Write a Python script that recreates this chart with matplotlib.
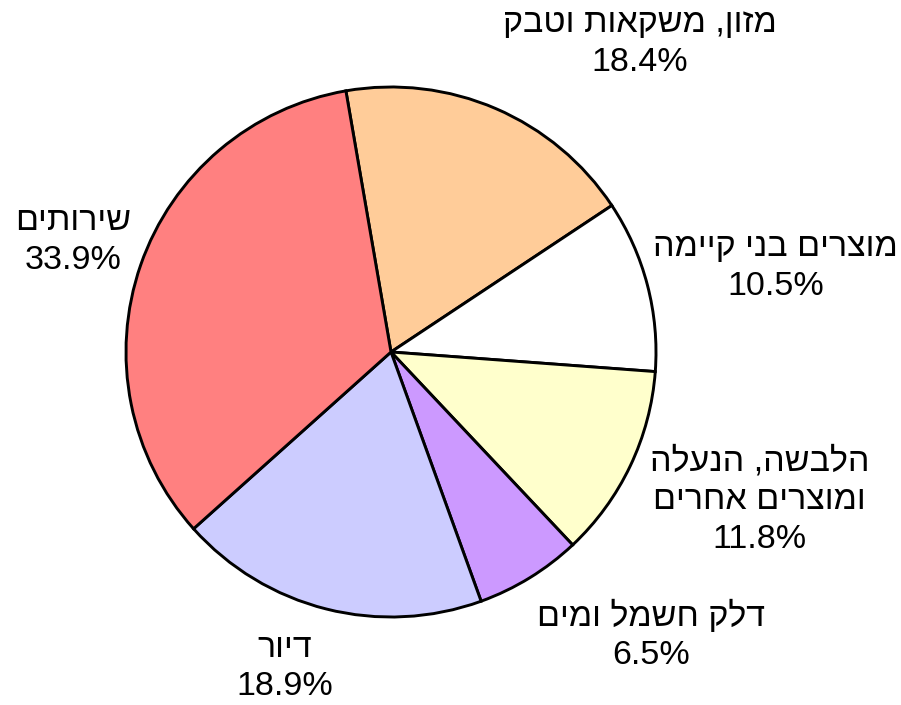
#!/usr/bin/env python3
# -*- coding: utf-8 -*-
import matplotlib
matplotlib.use("Agg")
import matplotlib.pyplot as plt

plt.rcParams["font.family"] = ["Liberation Sans", "DejaVu Sans"]

# consumer price index weights, clockwise from the top
categories = ["מזון, משקאות וטבק",
              "מוצרים בני קיימה",
              "הלבשה, הנעלה\nומוצרים אחרים",
              "דלק חשמל ומים",
              "דיור",
              "שירותים"]
shares = [18.4, 10.5, 11.8, 6.5, 18.9, 33.9]
colors = ["#FFCC99", "#FFFFFF", "#FFFFCC", "#CC99FF", "#CCCCFF", "#FF8080"]

# label centres, in units of the pie radius
label_pos = [(0.94, 1.165), (1.45, 0.32), (1.39, -0.56),
             (0.98, -1.07), (-0.40, -1.19), (-1.20, 0.42)]


def rtl(text):
    # matplotlib draws left to right, so flip each Hebrew line
    return "\n".join(line[::-1] for line in text.split("\n"))


def main():
    fig = plt.figure(figsize=(9.01, 7.05), dpi=100)
    ax = fig.add_axes([0, 0, 1, 1])

    ax.pie(shares, colors=colors, startangle=99.8, counterclock=False,
           wedgeprops=dict(edgecolor="black", linewidth=2.1))

    for name, val, (x, y) in zip(categories, shares, label_pos):
        ax.text(x, y, rtl(name) + "\n" + f"{val:.1f}%", fontsize=24.5,
                ha="center", va="center", multialignment="center",
                linespacing=1.32)

    # radius 1 = 265 px, centre at (391, 352) px
    r = 265.0
    ax.set_xlim(-391 / r, (901 - 391) / r)
    ax.set_ylim(-(705 - 352) / r, 352 / r)
    ax.set_aspect("auto")
    ax.axis("off")

    fig.savefig("out.png", dpi=100)


if __name__ == "__main__":
    main()
